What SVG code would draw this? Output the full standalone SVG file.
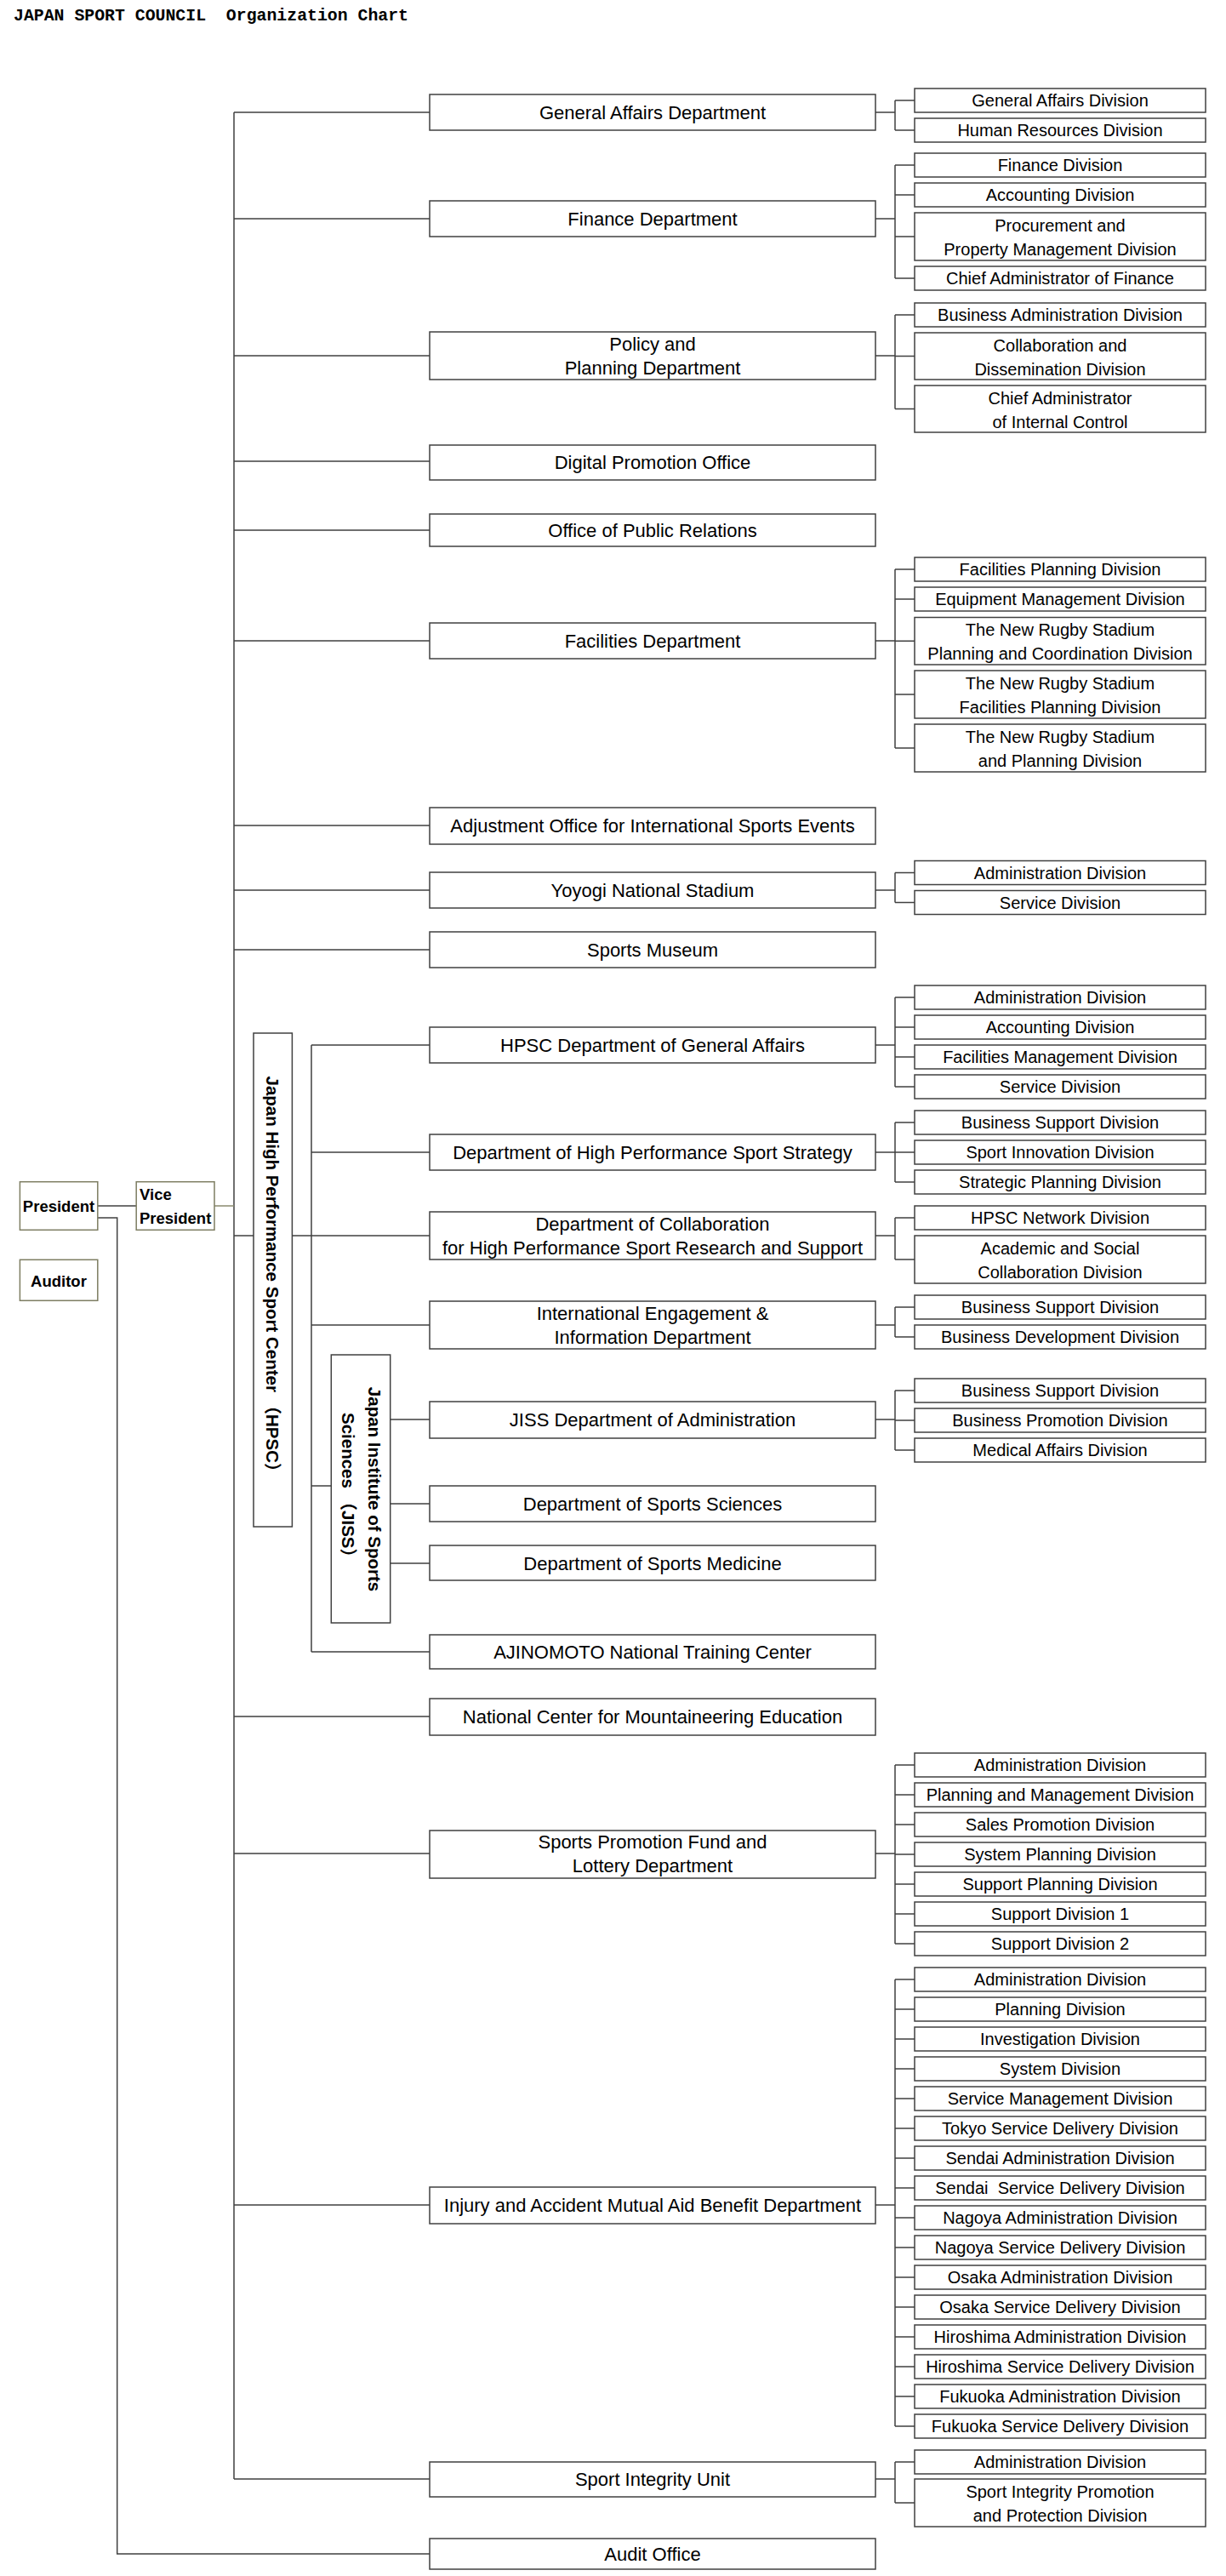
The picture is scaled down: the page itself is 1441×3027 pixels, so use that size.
<svg xmlns="http://www.w3.org/2000/svg" width="1441" height="3027" viewBox="0 0 1441 3027">
<style>
.box{fill:#fff;stroke:#404040;stroke-width:1.5}
.pbox{fill:#fff;stroke:#7d7d62;stroke-width:1.5}
.ln{fill:none;stroke:#404040;stroke-width:1.5}
.oln{fill:none;stroke:#8a8a6e;stroke-width:1.5}
.dt{font-family:"Liberation Sans",Arial,sans-serif;font-size:22px;text-anchor:middle;fill:#000}
.vt{font-family:"Liberation Sans",Arial,sans-serif;font-size:20px;text-anchor:middle;fill:#000}
.bt{font-family:"Liberation Sans",Arial,sans-serif;font-size:18.5px;font-weight:bold;fill:#000}
.rt{font-family:"Liberation Sans","Noto Sans CJK JP",sans-serif;font-size:20.5px;font-weight:bold;text-anchor:middle;fill:#000}
.title{font-family:"Liberation Mono","Noto Sans CJK JP",monospace;font-size:21px;font-weight:bold;fill:#000}
</style>
<rect width="1441" height="3027" fill="#fff"/>
<text class="title" x="16" y="24" textLength="464" lengthAdjust="spacingAndGlyphs" xml:space="preserve">JAPAN SPORT COUNCIL  Organization Chart</text>

<g id="connectors">
<path class="ln" d="M275 132V2913M275 132H505M275 257H505M275 418H505M275 542H505M275 623H505M275 753H505M275 970H505M275 1046H505M275 1116H505M275 2017H505M275 2178H505M275 2591H505M275 2913H505M275 1452H298M343.4 1452H505"/>
<path class="ln" d="M366 1228V1941M366 1228H505M366 1354H505M366 1557H505M366 1941H505M366 1746H389.3M458.7 1668H505M458.7 1767H505M458.7 1837H505"/>
<path class="ln" d="M114.8 1417H160.2M114.8 1431H137.7V3001H505"/>
<path class="oln" d="M252 1417H275"/>
<path class="ln" d="M1029 132H1052M1052 118V153M1052 118H1075M1052 153H1075"/>
<path class="ln" d="M1029 257H1052M1052 194V327M1052 194H1075M1052 229H1075M1052 278H1075M1052 327H1075"/>
<path class="ln" d="M1029 418H1052M1052 370V480.5M1052 370H1075M1052 418.5H1075M1052 480.5H1075"/>
<path class="ln" d="M1029 753H1052M1052 669V879M1052 669H1075M1052 704H1075M1052 753.25H1075M1052 816H1075M1052 879H1075"/>
<path class="ln" d="M1029 1046H1052M1052 1025.5V1060.5M1052 1025.5H1075M1052 1060.5H1075"/>
<path class="ln" d="M1029 1228H1052M1052 1172V1277M1052 1172H1075M1052 1207H1075M1052 1242H1075M1052 1277H1075"/>
<path class="ln" d="M1029 1354H1052M1052 1319V1389M1052 1319H1075M1052 1354H1075M1052 1389H1075"/>
<path class="ln" d="M1029 1452H1052M1052 1431V1480M1052 1431H1075M1052 1480H1075"/>
<path class="ln" d="M1029 1557H1052M1052 1536V1571M1052 1536H1075M1052 1571H1075"/>
<path class="ln" d="M1029 1668H1052M1052 1634V1704M1052 1634H1075M1052 1669H1075M1052 1704H1075"/>
<path class="ln" d="M1029 2178H1052M1052 2074V2284M1052 2074H1075M1052 2109H1075M1052 2144H1075M1052 2179H1075M1052 2214H1075M1052 2249H1075M1052 2284H1075"/>
<path class="ln" d="M1029 2591H1052M1052 2326V2851M1052 2326H1075M1052 2361H1075M1052 2396H1075M1052 2431H1075M1052 2466H1075M1052 2501H1075M1052 2536H1075M1052 2571H1075M1052 2606H1075M1052 2641H1075M1052 2676H1075M1052 2711H1075M1052 2746H1075M1052 2781H1075M1052 2816H1075M1052 2851H1075"/>
<path class="ln" d="M1029 2913H1052M1052 2893V2941M1052 2893H1075M1052 2941H1075"/>
</g>

<g id="president"><rect class="pbox" x="23.4" y="1388.7" width="91.4" height="56.6"/><text class="bt" x="69" y="1424" text-anchor="middle">President</text></g>
<g id="vice-president"><rect class="pbox" x="160.2" y="1388.7" width="91.8" height="56.6"/><text class="bt" x="164" y="1410">Vice</text><text class="bt" x="164" y="1438">President</text></g>
<g id="auditor"><rect class="pbox" x="23.4" y="1480.3" width="91.4" height="48"/><text class="bt" x="69" y="1512" text-anchor="middle">Auditor</text></g>

<g id="hpsc"><rect class="box" x="298" y="1214" width="45.4" height="580"/><text class="rt" transform="translate(313,1502) rotate(90)">Japan High Performance Sport Center （HPSC）</text></g>
<g id="jiss"><rect class="box" x="389.3" y="1592" width="69.4" height="315"/><text class="rt" transform="translate(432.7,1750) rotate(90)">Japan Institute of Sports</text><text class="rt" transform="translate(401.5,1750) rotate(90)">Sciences （JISS）</text></g>

<g id="d-general-affairs"><rect class="box" x="505" y="111" width="524" height="42"/><text class="dt" x="767" y="140">General Affairs Department</text></g>
<g id="d-finance"><rect class="box" x="505" y="236" width="524" height="42"/><text class="dt" x="767" y="265">Finance Department</text></g>
<g id="d-policy"><rect class="box" x="505" y="390" width="524" height="56"/><text class="dt" x="767" y="412">Policy and</text><text class="dt" x="767" y="440">Planning Department</text></g>
<g id="d-digital"><rect class="box" x="505" y="523" width="524" height="41"/><text class="dt" x="767" y="551">Digital Promotion Office</text></g>
<g id="d-public-relations"><rect class="box" x="505" y="604" width="524" height="38"/><text class="dt" x="767" y="631">Office of Public Relations</text></g>
<g id="d-facilities"><rect class="box" x="505" y="732" width="524" height="42"/><text class="dt" x="767" y="761">Facilities Department</text></g>
<g id="d-adjustment"><rect class="box" x="505" y="949" width="524" height="43"/><text class="dt" x="767" y="978">Adjustment Office for International Sports Events</text></g>
<g id="d-yoyogi"><rect class="box" x="505" y="1025" width="524" height="42"/><text class="dt" x="767" y="1054">Yoyogi National Stadium</text></g>
<g id="d-museum"><rect class="box" x="505" y="1095" width="524" height="42"/><text class="dt" x="767" y="1124">Sports Museum</text></g>
<g id="d-hpsc-ga"><rect class="box" x="505" y="1207" width="524" height="42"/><text class="dt" x="767" y="1236">HPSC Department of General Affairs</text></g>
<g id="d-hps-strategy"><rect class="box" x="505" y="1333" width="524" height="42"/><text class="dt" x="767" y="1362">Department of High Performance Sport Strategy</text></g>
<g id="d-collaboration"><rect class="box" x="505" y="1424" width="524" height="56"/><text class="dt" x="767" y="1446">Department of Collaboration</text><text class="dt" x="767" y="1474">for High Performance Sport Research and Support</text></g>
<g id="d-international"><rect class="box" x="505" y="1529" width="524" height="56"/><text class="dt" x="767" y="1551">International Engagement &amp;</text><text class="dt" x="767" y="1579">Information Department</text></g>
<g id="d-jiss-admin"><rect class="box" x="505" y="1647" width="524" height="43"/><text class="dt" x="767" y="1676">JISS Department of Administration</text></g>
<g id="d-sports-sciences"><rect class="box" x="505" y="1746" width="524" height="42"/><text class="dt" x="767" y="1775">Department of Sports Sciences</text></g>
<g id="d-sports-medicine"><rect class="box" x="505" y="1816" width="524" height="41"/><text class="dt" x="767" y="1845">Department of Sports Medicine</text></g>
<g id="d-ajinomoto"><rect class="box" x="505" y="1921" width="524" height="40"/><text class="dt" x="767" y="1949">AJINOMOTO National Training Center</text></g>
<g id="d-mountaineering"><rect class="box" x="505" y="1996" width="524" height="43"/><text class="dt" x="767" y="2025">National Center for Mountaineering Education</text></g>
<g id="d-spf"><rect class="box" x="505" y="2151" width="524" height="56"/><text class="dt" x="767" y="2172">Sports Promotion Fund and</text><text class="dt" x="767" y="2200">Lottery Department</text></g>
<g id="d-injury"><rect class="box" x="505" y="2570" width="524" height="43"/><text class="dt" x="767" y="2599">Injury and Accident Mutual Aid Benefit Department</text></g>
<g id="d-integrity"><rect class="box" x="505" y="2893" width="524" height="41"/><text class="dt" x="767" y="2921">Sport Integrity Unit</text></g>
<g id="d-audit"><rect class="box" x="505" y="2983" width="524" height="36"/><text class="dt" x="767" y="3009">Audit Office</text></g>

<g id="div-ga-1"><rect class="box" x="1075" y="104" width="342" height="28"/><text class="vt" x="1246" y="125">General Affairs Division</text></g>
<g id="div-ga-2"><rect class="box" x="1075" y="139" width="342" height="28"/><text class="vt" x="1246" y="160">Human Resources Division</text></g>
<g id="div-fin-1"><rect class="box" x="1075" y="180" width="342" height="28"/><text class="vt" x="1246" y="201">Finance Division</text></g>
<g id="div-fin-2"><rect class="box" x="1075" y="215" width="342" height="28"/><text class="vt" x="1246" y="236">Accounting Division</text></g>
<g id="div-fin-3"><rect class="box" x="1075" y="250" width="342" height="56"/><text class="vt" x="1246" y="272">Procurement and</text><text class="vt" x="1246" y="300">Property Management Division</text></g>
<g id="div-fin-4"><rect class="box" x="1075" y="313" width="342" height="28"/><text class="vt" x="1246" y="334">Chief Administrator of Finance</text></g>
<g id="div-pol-1"><rect class="box" x="1075" y="356" width="342" height="28"/><text class="vt" x="1246" y="377">Business Administration Division</text></g>
<g id="div-pol-2"><rect class="box" x="1075" y="391" width="342" height="55"/><text class="vt" x="1246" y="412.5">Collaboration and</text><text class="vt" x="1246" y="440.5">Dissemination Division</text></g>
<g id="div-pol-3"><rect class="box" x="1075" y="453" width="342" height="55"/><text class="vt" x="1246" y="474.5">Chief Administrator</text><text class="vt" x="1246" y="502.5">of Internal Control</text></g>
<g id="div-fac-1"><rect class="box" x="1075" y="655" width="342" height="28"/><text class="vt" x="1246" y="676">Facilities Planning Division</text></g>
<g id="div-fac-2"><rect class="box" x="1075" y="690" width="342" height="28"/><text class="vt" x="1246" y="711">Equipment Management Division</text></g>
<g id="div-fac-3"><rect class="box" x="1075" y="725.5" width="342" height="55.5"/><text class="vt" x="1246" y="747.2">The New Rugby Stadium</text><text class="vt" x="1246" y="775.2">Planning and Coordination Division</text></g>
<g id="div-fac-4"><rect class="box" x="1075" y="788" width="342" height="56"/><text class="vt" x="1246" y="810">The New Rugby Stadium</text><text class="vt" x="1246" y="838">Facilities Planning Division</text></g>
<g id="div-fac-5"><rect class="box" x="1075" y="851" width="342" height="56"/><text class="vt" x="1246" y="873">The New Rugby Stadium</text><text class="vt" x="1246" y="901">and Planning Division</text></g>
<g id="div-yoy-1"><rect class="box" x="1075" y="1011.5" width="342" height="28"/><text class="vt" x="1246" y="1032.5">Administration Division</text></g>
<g id="div-yoy-2"><rect class="box" x="1075" y="1046.5" width="342" height="28"/><text class="vt" x="1246" y="1067.5">Service Division</text></g>
<g id="div-hga-1"><rect class="box" x="1075" y="1158" width="342" height="28"/><text class="vt" x="1246" y="1179">Administration Division</text></g>
<g id="div-hga-2"><rect class="box" x="1075" y="1193" width="342" height="28"/><text class="vt" x="1246" y="1214">Accounting Division</text></g>
<g id="div-hga-3"><rect class="box" x="1075" y="1228" width="342" height="28"/><text class="vt" x="1246" y="1249">Facilities Management Division</text></g>
<g id="div-hga-4"><rect class="box" x="1075" y="1263" width="342" height="28"/><text class="vt" x="1246" y="1284">Service Division</text></g>
<g id="div-hps-1"><rect class="box" x="1075" y="1305" width="342" height="28"/><text class="vt" x="1246" y="1326">Business Support Division</text></g>
<g id="div-hps-2"><rect class="box" x="1075" y="1340" width="342" height="28"/><text class="vt" x="1246" y="1361">Sport Innovation Division</text></g>
<g id="div-hps-3"><rect class="box" x="1075" y="1375" width="342" height="28"/><text class="vt" x="1246" y="1396">Strategic Planning Division</text></g>
<g id="div-col-1"><rect class="box" x="1075" y="1417" width="342" height="28"/><text class="vt" x="1246" y="1438">HPSC Network Division</text></g>
<g id="div-col-2"><rect class="box" x="1075" y="1452" width="342" height="56"/><text class="vt" x="1246" y="1474">Academic and Social</text><text class="vt" x="1246" y="1502">Collaboration Division</text></g>
<g id="div-int-1"><rect class="box" x="1075" y="1522" width="342" height="28"/><text class="vt" x="1246" y="1543">Business Support Division</text></g>
<g id="div-int-2"><rect class="box" x="1075" y="1557" width="342" height="28"/><text class="vt" x="1246" y="1578">Business Development Division</text></g>
<g id="div-jis-1"><rect class="box" x="1075" y="1620" width="342" height="28"/><text class="vt" x="1246" y="1641">Business Support Division</text></g>
<g id="div-jis-2"><rect class="box" x="1075" y="1655" width="342" height="28"/><text class="vt" x="1246" y="1676">Business Promotion Division</text></g>
<g id="div-jis-3"><rect class="box" x="1075" y="1690" width="342" height="28"/><text class="vt" x="1246" y="1711">Medical Affairs Division</text></g>
<g id="div-spf-1"><rect class="box" x="1075" y="2060" width="342" height="28"/><text class="vt" x="1246" y="2081">Administration Division</text></g>
<g id="div-spf-2"><rect class="box" x="1075" y="2095" width="342" height="28"/><text class="vt" x="1246" y="2116">Planning and Management Division</text></g>
<g id="div-spf-3"><rect class="box" x="1075" y="2130" width="342" height="28"/><text class="vt" x="1246" y="2151">Sales Promotion Division</text></g>
<g id="div-spf-4"><rect class="box" x="1075" y="2165" width="342" height="28"/><text class="vt" x="1246" y="2186">System Planning Division</text></g>
<g id="div-spf-5"><rect class="box" x="1075" y="2200" width="342" height="28"/><text class="vt" x="1246" y="2221">Support Planning Division</text></g>
<g id="div-spf-6"><rect class="box" x="1075" y="2235" width="342" height="28"/><text class="vt" x="1246" y="2256">Support Division 1</text></g>
<g id="div-spf-7"><rect class="box" x="1075" y="2270" width="342" height="28"/><text class="vt" x="1246" y="2291">Support Division 2</text></g>
<g id="div-inj-1"><rect class="box" x="1075" y="2312" width="342" height="28"/><text class="vt" x="1246" y="2333">Administration Division</text></g>
<g id="div-inj-2"><rect class="box" x="1075" y="2347" width="342" height="28"/><text class="vt" x="1246" y="2368">Planning Division</text></g>
<g id="div-inj-3"><rect class="box" x="1075" y="2382" width="342" height="28"/><text class="vt" x="1246" y="2403">Investigation Division</text></g>
<g id="div-inj-4"><rect class="box" x="1075" y="2417" width="342" height="28"/><text class="vt" x="1246" y="2438">System Division</text></g>
<g id="div-inj-5"><rect class="box" x="1075" y="2452" width="342" height="28"/><text class="vt" x="1246" y="2473">Service Management Division</text></g>
<g id="div-inj-6"><rect class="box" x="1075" y="2487" width="342" height="28"/><text class="vt" x="1246" y="2508">Tokyo Service Delivery Division</text></g>
<g id="div-inj-7"><rect class="box" x="1075" y="2522" width="342" height="28"/><text class="vt" x="1246" y="2543">Sendai Administration Division</text></g>
<g id="div-inj-8"><rect class="box" x="1075" y="2557" width="342" height="28"/><text class="vt" x="1246" y="2578" xml:space="preserve">Sendai  Service Delivery Division</text></g>
<g id="div-inj-9"><rect class="box" x="1075" y="2592" width="342" height="28"/><text class="vt" x="1246" y="2613">Nagoya Administration Division</text></g>
<g id="div-inj-10"><rect class="box" x="1075" y="2627" width="342" height="28"/><text class="vt" x="1246" y="2648">Nagoya Service Delivery Division</text></g>
<g id="div-inj-11"><rect class="box" x="1075" y="2662" width="342" height="28"/><text class="vt" x="1246" y="2683">Osaka Administration Division</text></g>
<g id="div-inj-12"><rect class="box" x="1075" y="2697" width="342" height="28"/><text class="vt" x="1246" y="2718">Osaka Service Delivery Division</text></g>
<g id="div-inj-13"><rect class="box" x="1075" y="2732" width="342" height="28"/><text class="vt" x="1246" y="2753">Hiroshima Administration Division</text></g>
<g id="div-inj-14"><rect class="box" x="1075" y="2767" width="342" height="28"/><text class="vt" x="1246" y="2788">Hiroshima Service Delivery Division</text></g>
<g id="div-inj-15"><rect class="box" x="1075" y="2802" width="342" height="28"/><text class="vt" x="1246" y="2823">Fukuoka Administration Division</text></g>
<g id="div-inj-16"><rect class="box" x="1075" y="2837" width="342" height="28"/><text class="vt" x="1246" y="2858">Fukuoka Service Delivery Division</text></g>
<g id="div-siu-1"><rect class="box" x="1075" y="2879" width="342" height="28"/><text class="vt" x="1246" y="2900">Administration Division</text></g>
<g id="div-siu-2"><rect class="box" x="1075" y="2913" width="342" height="56"/><text class="vt" x="1246" y="2935">Sport Integrity Promotion</text><text class="vt" x="1246" y="2963">and Protection Division</text></g>
</svg>
